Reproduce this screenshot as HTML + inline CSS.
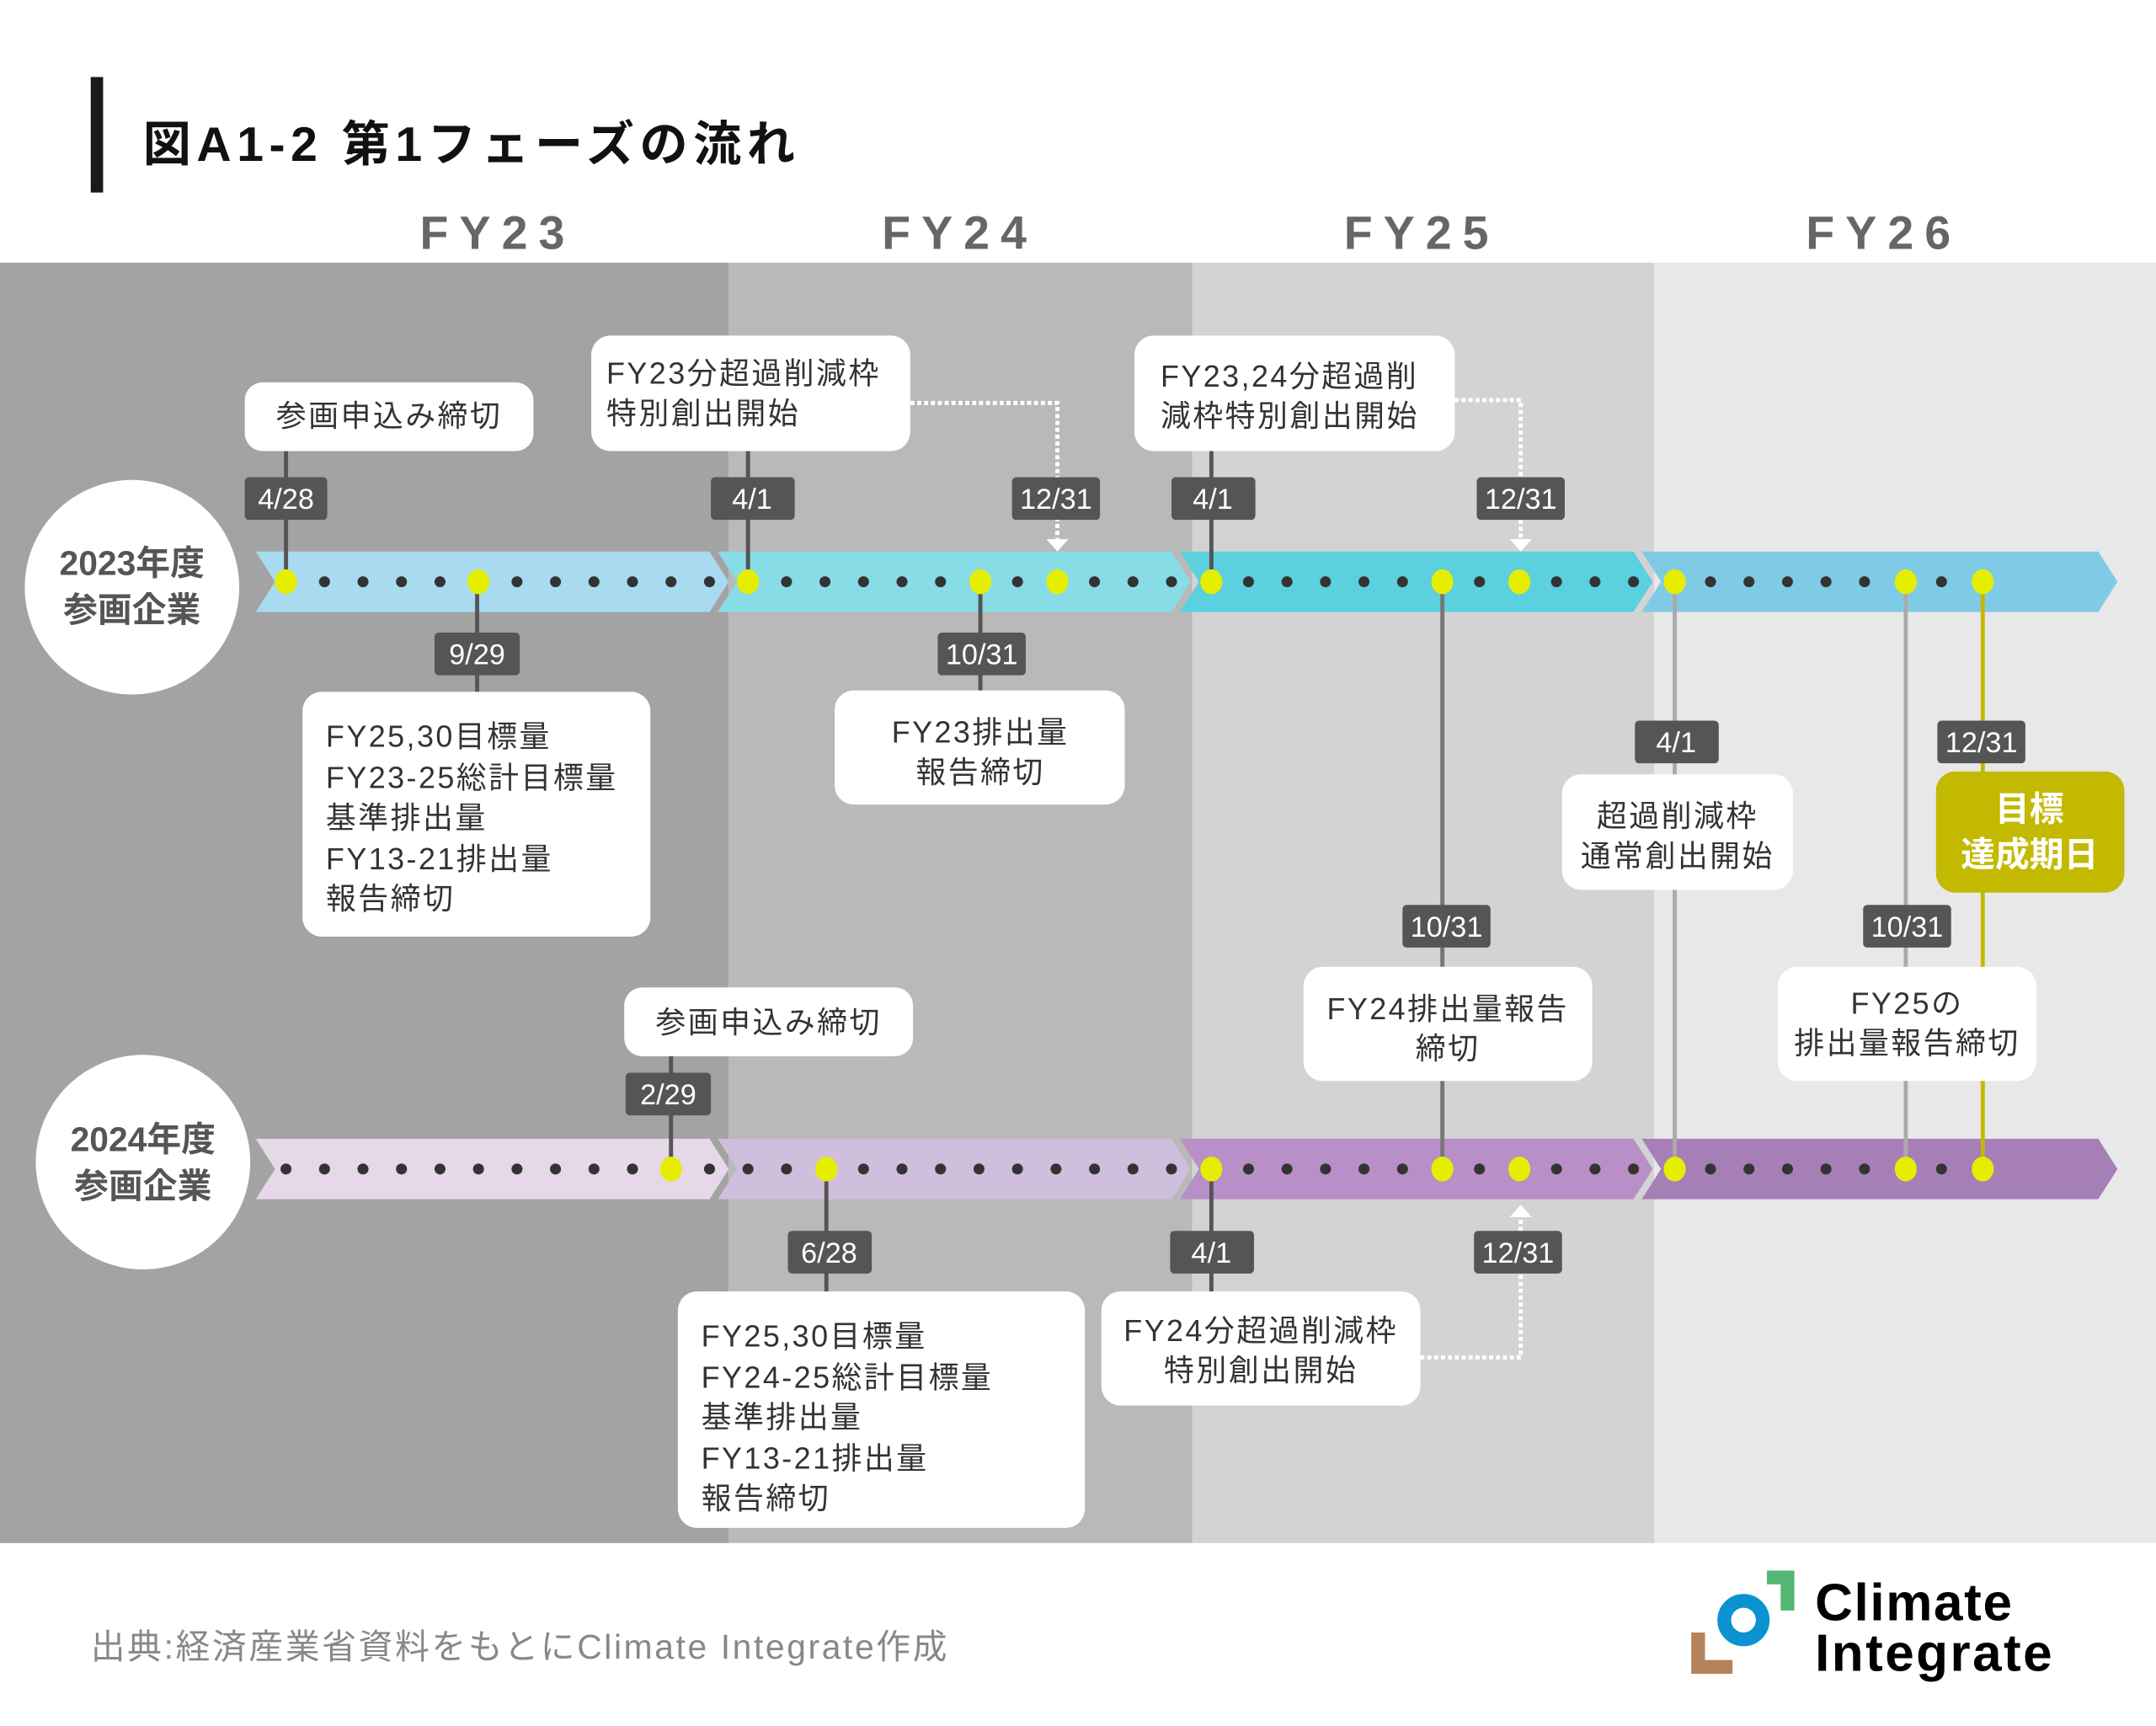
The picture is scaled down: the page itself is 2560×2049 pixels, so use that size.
<!DOCTYPE html>
<html><head><meta charset="utf-8"><style>
html,body{margin:0;padding:0;background:#fff;}
svg{display:block;}
text{font-family:"Liberation Sans","Noto Sans CJK JP",sans-serif;}
</style></head><body>
<svg width="2560" height="2049" viewBox="0 0 1568 1255" xmlns="http://www.w3.org/2000/svg">
<defs>
<pattern id="dots" patternUnits="userSpaceOnUse" x="194" y="0" width="28" height="1255">
<circle cx="14" cy="423" r="4" fill="#333"/>
<circle cx="14" cy="850" r="4" fill="#333"/>
</pattern>
</defs>
<rect width="1568" height="1255" fill="#fff"/>
<rect x="0" y="191" width="530" height="931" fill="#a3a3a3"/>
<rect x="530" y="191" width="337" height="931" fill="#b9b9b9"/>
<rect x="867" y="191" width="336" height="931" fill="#d3d3d3"/>
<rect x="1203" y="191" width="365" height="931" fill="#e8e8e8"/>
<rect x="66" y="56" width="9" height="84" fill="#1a1a1a"/>
<text x="104" y="117" font-size="35" font-weight="bold" fill="#111" letter-spacing="4">図A1-2 第1フェーズの流れ</text>
<g font-size="34" font-weight="bold" fill="#666" text-anchor="middle" letter-spacing="8">
<text x="362" y="181">FY23</text><text x="698" y="181">FY24</text><text x="1034" y="181">FY25</text><text x="1370" y="181">FY26</text>
</g>
<polygon points="186,401 516,401 530,423 516,445 186,445 200,423" fill="#a8dbef"/>
<polygon points="522,401 852,401 866,423 852,445 522,445 536,423" fill="#88dce6"/>
<polygon points="858,401 1188,401 1202,423 1188,445 858,445 872,423" fill="#5bd0de"/>
<polygon points="1194,401 1526,401 1540,423 1526,445 1194,445 1208,423" fill="#7fcbe5"/>
<polygon points="186,828 516,828 530,850 516,872 186,872 200,850" fill="#e6d8e8"/>
<polygon points="522,828 852,828 866,850 852,872 522,872 536,850" fill="#cfbfdc"/>
<polygon points="858,828 1188,828 1202,850 1188,872 858,872 872,850" fill="#b88fc6"/>
<polygon points="1194,828 1526,828 1540,850 1526,872 1194,872 1208,850" fill="#a67fb7"/>
<rect x="194" y="410" width="1260" height="26" fill="url(#dots)"/>
<rect x="194" y="837" width="1260" height="26" fill="url(#dots)"/>
<circle cx="96" cy="427" r="78" fill="#fff"/>
<text x="96" y="418" font-size="25" font-weight="bold" fill="#555" text-anchor="middle">2023年度</text>
<text x="96" y="452" font-size="25" font-weight="bold" fill="#555" text-anchor="middle">参画企業</text>
<circle cx="104" cy="845" r="78" fill="#fff"/>
<text x="104" y="837" font-size="25" font-weight="bold" fill="#555" text-anchor="middle">2024年度</text>
<text x="104" y="871" font-size="25" font-weight="bold" fill="#555" text-anchor="middle">参画企業</text>
<g stroke="#555" stroke-width="3">
<line x1="208" y1="326" x2="208" y2="423"/>
<line x1="544" y1="326" x2="544" y2="423"/>
<line x1="347" y1="423" x2="347" y2="505"/>
<line x1="713" y1="423" x2="713" y2="504"/>
<line x1="881" y1="326" x2="881" y2="423"/>
<line x1="488" y1="766" x2="488" y2="850"/>
<line x1="601" y1="850" x2="601" y2="941"/>
<line x1="881" y1="850" x2="881" y2="941"/>
</g>
<line x1="1049" y1="423" x2="1049" y2="850" stroke="#777" stroke-width="3"/>
<line x1="1218" y1="423" x2="1218" y2="850" stroke="#aaa" stroke-width="3"/>
<line x1="1386" y1="423" x2="1386" y2="850" stroke="#aaa" stroke-width="3"/>
<line x1="1442" y1="423" x2="1442" y2="850" stroke="#c3b900" stroke-width="3"/>
<g stroke="#fff" stroke-width="3" stroke-dasharray="3,2" fill="none">
<polyline points="662,293 769,293 769,392"/>
<polyline points="1058,291 1106,291 1106,392"/>
<polyline points="1033,987 1106,987 1106,885"/>
</g>
<g fill="#fff">
<polygon points="761,392 777,392 769,401"/>
<polygon points="1098,392 1114,392 1106,401"/>
<polygon points="1098,885 1114,885 1106,876"/>
</g>
<g fill="#e6ee00">
<ellipse cx="208" cy="423" rx="8" ry="9"/><ellipse cx="348" cy="423" rx="8" ry="9"/><ellipse cx="544" cy="423" rx="8" ry="9"/>
<ellipse cx="713" cy="423" rx="8" ry="9"/><ellipse cx="769" cy="423" rx="8" ry="9"/><ellipse cx="881" cy="423" rx="8" ry="9"/>
<ellipse cx="1049" cy="423" rx="8" ry="9"/><ellipse cx="1105" cy="423" rx="8" ry="9"/><ellipse cx="1218" cy="423" rx="8" ry="9"/>
<ellipse cx="1386" cy="423" rx="8" ry="9"/><ellipse cx="1442" cy="423" rx="8" ry="9"/>
<ellipse cx="488" cy="850" rx="8" ry="9"/><ellipse cx="601" cy="850" rx="8" ry="9"/><ellipse cx="881" cy="850" rx="8" ry="9"/>
<ellipse cx="1049" cy="850" rx="8" ry="9"/><ellipse cx="1105" cy="850" rx="8" ry="9"/><ellipse cx="1218" cy="850" rx="8" ry="9"/>
<ellipse cx="1386" cy="850" rx="8" ry="9"/><ellipse cx="1442" cy="850" rx="8" ry="9"/>
</g>
<g fill="#555">
<rect x="178" y="347" width="60" height="31" rx="3"/>
<rect x="517" y="347" width="61" height="31" rx="3"/>
<rect x="736" y="347" width="64" height="31" rx="3"/>
<rect x="852" y="347" width="61" height="31" rx="3"/>
<rect x="1074" y="347" width="64" height="31" rx="3"/>
<rect x="316" y="460" width="62" height="31" rx="3"/>
<rect x="682" y="460" width="64" height="31" rx="3"/>
<rect x="1189" y="524" width="61" height="31" rx="3"/>
<rect x="1409" y="524" width="64" height="31" rx="3"/>
<rect x="1020" y="658" width="64" height="31" rx="3"/>
<rect x="1355" y="658" width="64" height="31" rx="3"/>
<rect x="455" y="780" width="62" height="31" rx="3"/>
<rect x="573" y="895" width="61" height="31" rx="3"/>
<rect x="851" y="895" width="61" height="31" rx="3"/>
<rect x="1072" y="895" width="64" height="31" rx="3"/>
</g>
<g fill="#fff" font-size="21" text-anchor="middle">
<text x="208" y="370">4/28</text><text x="547" y="370">4/1</text><text x="768" y="370">12/31</text>
<text x="882" y="370">4/1</text><text x="1106" y="370">12/31</text>
<text x="347" y="483">9/29</text><text x="714" y="483">10/31</text>
<text x="1219" y="547">4/1</text><text x="1441" y="547">12/31</text>
<text x="1052" y="681">10/31</text><text x="1387" y="681">10/31</text>
<text x="486" y="803">2/29</text><text x="603" y="918">6/28</text><text x="881" y="918">4/1</text><text x="1104" y="918">12/31</text>
</g>
<g fill="#fff">
<rect x="178" y="278" width="210" height="50" rx="13"/>
<rect x="430" y="244" width="232" height="84" rx="14"/>
<rect x="825" y="244" width="233" height="84" rx="14"/>
<rect x="220" y="503" width="253" height="178" rx="14"/>
<rect x="607" y="502" width="211" height="83" rx="14"/>
<rect x="1136" y="563" width="168" height="84" rx="14"/>
<rect x="948" y="703" width="210" height="83" rx="14"/>
<rect x="1293" y="703" width="188" height="83" rx="14"/>
<rect x="454" y="718" width="210" height="50" rx="13"/>
<rect x="493" y="939" width="296" height="172" rx="14"/>
<rect x="801" y="939" width="232" height="83" rx="14"/>
</g>
<rect x="1408" y="561" width="137" height="88" rx="14" fill="#c3b900"/>
<g fill="#333" font-size="22" letter-spacing="1.5">
<text x="283" y="310" text-anchor="middle">参画申込み締切</text>
<text x="441" y="279">FY23分超過削減枠</text><text x="441" y="308">特別創出開始</text>
<text x="844" y="281">FY23,24分超過削</text><text x="844" y="310">減枠特別創出開始</text>
<text x="237" y="543">FY25,30目標量</text><text x="237" y="573">FY23-25総計目標量</text><text x="237" y="602">基準排出量</text><text x="237" y="632">FY13-21排出量</text><text x="237" y="661">報告締切</text>
<text x="713" y="540" text-anchor="middle">FY23排出量</text><text x="713" y="569" text-anchor="middle">報告締切</text>
<text x="1220" y="601" text-anchor="middle">超過削減枠</text><text x="1220" y="630" text-anchor="middle">通常創出開始</text>
<text x="1053" y="741" text-anchor="middle">FY24排出量報告</text><text x="1053" y="770" text-anchor="middle">締切</text>
<text x="1387" y="737" text-anchor="middle">FY25の</text><text x="1387" y="766" text-anchor="middle">排出量報告締切</text>
<text x="559" y="751" text-anchor="middle">参画申込み締切</text>
<text x="510" y="979">FY25,30目標量</text><text x="510" y="1009">FY24-25総計目標量</text><text x="510" y="1038">基準排出量</text><text x="510" y="1068">FY13-21排出量</text><text x="510" y="1097">報告締切</text>
<text x="917" y="975" text-anchor="middle">FY24分超過削減枠</text><text x="917" y="1004" text-anchor="middle">特別創出開始</text>
</g>
<text x="1476" y="597" fill="#fff" font-size="25" font-weight="bold" text-anchor="middle">目標</text>
<text x="1476" y="630" fill="#fff" font-size="25" font-weight="bold" text-anchor="middle">達成期日</text>
<text x="66" y="1206" font-size="25" fill="#888" letter-spacing="1.6">出典:経済産業省資料をもとにClimate Integrate作成</text>
<polygon points="1230,1187 1240,1187 1240,1207 1260,1207 1260,1217 1230,1217" fill="#b5825a"/>
<circle cx="1268" cy="1178" r="14" fill="none" stroke="#0a93d0" stroke-width="10"/>
<polygon points="1285,1142 1305,1142 1305,1171 1295,1171 1295,1152 1285,1152" fill="#52b873"/>
<text x="1320" y="1178" font-size="38" font-weight="bold" fill="#000" letter-spacing="1">Climate</text>
<text x="1320" y="1215" font-size="38" font-weight="bold" fill="#000" letter-spacing="1.5">Integrate</text>
</svg>
</body></html>
